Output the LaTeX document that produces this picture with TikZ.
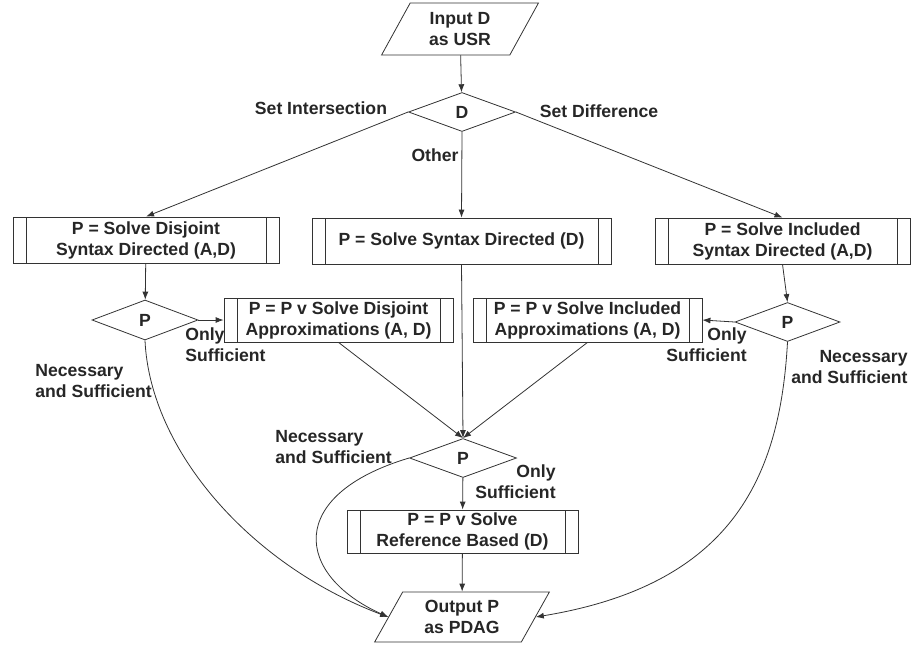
\documentclass[tikz,border=0pt]{standalone}
\usepackage{fontspec}
\setmainfont{Liberation Sans}
\usetikzlibrary{shapes.geometric,arrows.meta}
\begin{document}
\begin{tikzpicture}[
        x=1pt, y=-1pt,
        >={Latex[length=8pt,width=6pt]},
        every node/.style={font=\bfseries\fontsize{17.6}{21}\selectfont, text=black!85, align=center, inner sep=0pt},
        every path/.style={draw=black!80, line width=0.8pt},
        proc/.style={draw, rectangle, minimum height=46pt,
            path picture={\draw ([xshift=13pt]path picture bounding box.north west) -- ([xshift=13pt]path picture bounding box.south west)
                ([xshift=-13pt]path picture bounding box.north east) -- ([xshift=-13pt]path picture bounding box.south east);}},
        dec/.style={draw, diamond, aspect=2.7, minimum width=107pt, minimum height=39pt},
        io/.style={draw, trapezium, trapezium left angle=62, trapezium right angle=118, trapezium stretches=true},
        lbl/.style={draw=none},
    ]
    \useasboundingbox[draw=none] (0,0) rectangle (912,646);
    \node[io, minimum width=157pt, minimum height=52pt](input) at (460,29){Input D\\as USR};
    \node[dec](d) at (462,112){D};
    \node[proc, minimum width=266pt](sdis) at (146,240){P = Solve Disjoint\\Syntax Directed (A,D)};
    \node[proc, minimum width=299pt](ssyn) at (461.5,241){P = Solve Syntax Directed (D)};
    \node[proc, minimum width=255pt](sinc) at (782.5,241){P = Solve Included\\Syntax Directed (A,D)};
    \node[dec, minimum width=106pt, minimum height=40pt](pl) at (145,320){P};
    \node[proc, minimum width=229pt, minimum height=44pt](adis) at (338.5,320){P = P v Solve Disjoint\\Approximations (A, D)};
    \node[proc, minimum width=229pt, minimum height=44pt](ainc) at (587.5,320){P = P v Solve Included\\Approximations (A, D)};
    \node[dec, minimum width=105pt](pr) at (787.5,322){P};
    \node[dec](pm) at (463,458){P};
    \node[proc, minimum width=231pt, minimum height=43pt](ref) at (462.5,531.5){P = P v Solve\\Reference Based (D)};
    \node[io, minimum width=175pt, minimum height=50pt](output) at (462,617){Output P\\as PDAG};

    \node[lbl](setint) at (321,108){Set Intersection};
    \node[lbl](setdiff) at (599,111){Set Difference};
    \node[lbl](other) at (435,155){Other};
    \node[lbl, anchor=west, align=left](osl) at (185,345){Only\\Sufficient};
    \node[lbl, anchor=west, align=left](nsl) at (35,381){Necessary\\and Sufficient};
    \node[lbl, anchor=east, align=right](osr) at (747,345){Only\\Sufficient};
    \node[lbl, anchor=east, align=right](nsr) at (908,367){Necessary\\and Sufficient};
    \node[lbl, anchor=west, align=left](nsm) at (275,447){Necessary\\and Sufficient};
    \node[lbl, anchor=east, align=right](osm) at (556,482){Only\\Sufficient};

    \draw[->] (input) -- (d);
    \draw[->] (d.west) -- (sdis.north);
    \draw[->] (d.south) -- (ssyn.north);
    \draw[->] (d.east) -- (sinc.north);
    \draw[->] (sdis) -- (pl);
    \draw[->] (pl.east) -- (adis.west);
    \draw[->] (sinc.south) -- (pr.north);
    \draw[->] (pr.west) -- (ainc.east);
    \draw[->] (adis.south) -- (pm.north);
    \draw[->] (ssyn.south) -- (pm.north);
    \draw[->] (ainc.south) -- (pm.north);
    \draw[->] (pm) -- (ref);
    \draw[->] (ref) -- (output);
    \draw[->] (pl.south) .. controls (150,450) and (250,565) .. (output.west);
    \draw[->] (pm.west) .. controls (285,495) and (295,575) .. (output.west);
    \draw[->] (pr.south) .. controls (780,480) and (730,585) .. (output.east);
\end{tikzpicture}
\end{document}
